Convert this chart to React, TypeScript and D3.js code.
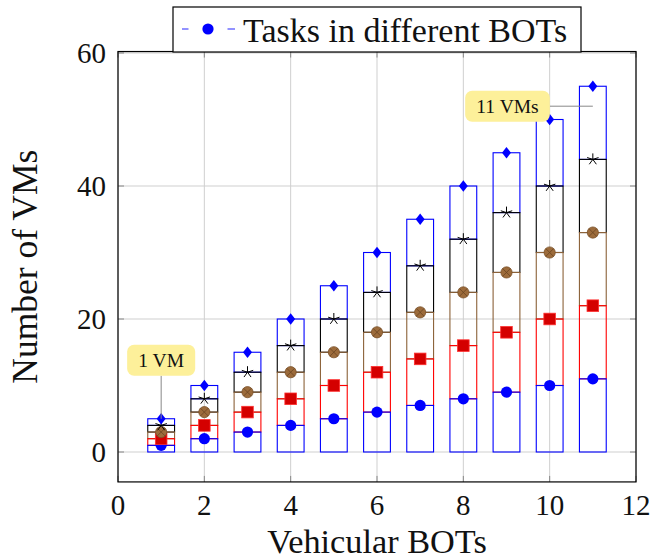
import React from "react";
import * as d3 from "d3";

// Vehicular BOT index along the x axis
const bots = [1, 2, 3, 4, 5, 6, 7, 8, 9, 10, 11];
// Cumulative number of VMs at each stack level
const vmLevel1 = [1, 2, 3, 4, 5, 6, 7, 8, 9, 10, 11];
const vmLevel2 = [2, 4, 6, 8, 10, 12, 14, 16, 18, 20, 22];
const vmLevel3 = [3, 6, 9, 12, 15, 18, 21, 24, 27, 30, 33];
const vmLevel4 = [4, 8, 12, 16, 20, 24, 28, 32, 36, 40, 44];
const vmLevel5 = [5, 10, 15, 20, 25, 30, 35, 40, 45, 50, 55];
const xTicks = [0, 2, 4, 6, 8, 10, 12];
const yTicks = [0, 20, 40, 60];
const legendLabel = "Tasks in different BOTs";
const xLabel = "Vehicular BOTs";
const yLabel = "Number of VMs";
const pinLabels = ["1 VM", "11 VMs"];
const pinBots = [1, 11];
const pinValues = [5, 52];

const W = 653;
const H = 559;
const FONT = "'Liberation Serif', 'Times New Roman', serif";

const x = d3.scaleLinear().domain([0, 12]).range([118, 636]);
const y = d3.scaleLinear().domain([0, 60]).range([452, 53]);
const frameTop = y(60.22);
const frameBottom = y(-4.5);
const barHalf = 13.4;

const levels = [vmLevel1, vmLevel2, vmLevel3, vmLevel4, vmLevel5];
const levelColors = ["#0000ff", "#ff0000", "#8c6239", "#000000", "#0000ff"];

function textWidth(t: string, size: number) {
  const c = document.createElement("canvas").getContext("2d");
  if (!c) return t.length * size * 0.45;
  c.font = `${size}px ${FONT}`;
  return c.measureText(t).width;
}

function Star({ cx, cy, r }: { cx: number; cy: number; r: number }) {
  const rays = d3.range(5).map((i) => {
    const a = -Math.PI / 2 + (i * 2 * Math.PI) / 5;
    return (
      <line key={i} x1={cx} y1={cy} x2={cx + r * Math.cos(a)} y2={cy + r * Math.sin(a)} stroke="#000" strokeWidth={1} />
    );
  });
  return <g>{rays}</g>;
}

function OTimes({ cx, cy, r }: { cx: number; cy: number; r: number }) {
  const k = r * Math.SQRT1_2;
  return (
    <g>
      <circle cx={cx} cy={cy} r={r} fill="#9c6b3b" stroke="#7a5028" strokeWidth={0.8} />
      <line x1={cx - k} y1={cy - k} x2={cx + k} y2={cy + k} stroke="#6b4522" strokeWidth={0.8} />
      <line x1={cx - k} y1={cy + k} x2={cx + k} y2={cy - k} stroke="#6b4522" strokeWidth={0.8} />
    </g>
  );
}

function Pin({ label, bx, v, dir }: { label: string; bx: number; v: number; dir: "up" | "left" }) {
  const fs = 19.5;
  const tw = textWidth(label, fs);
  const bw = tw + 22;
  const bh = 31;
  const px = x(bx);
  const py = y(v);
  const dist = 43;
  let cx: number, cy: number, lx: number, ly: number;
  if (dir === "up") {
    cx = px;
    cy = py - dist - bh / 2;
    lx = px;
    ly = py - dist;
  } else {
    cx = px - dist - bw / 2;
    cy = py;
    lx = px - dist;
    ly = py;
  }
  return (
    <g>
      <line x1={px} y1={py} x2={lx} y2={ly} stroke="#888" strokeWidth={1} />
      <rect x={cx - bw / 2} y={cy - bh / 2} width={bw} height={bh} rx={7} fill="#fdf09a" />
      <text x={cx} y={cy + 6.5} textAnchor="middle" fontFamily={FONT} fontSize={fs} fill="#111">
        {label}
      </text>
    </g>
  );
}

export default function App() {
  const legendX0 = 173;
  const legendX1 = 581;
  const legendY0 = 7;
  const legendY1 = 52;
  return (
    <svg width={W} height={H} style={{ position: "absolute", left: 0, top: 0, background: "#fff" }}>
      <rect x={0} y={0} width={W} height={H} fill="#fff" />
      {/* grid */}
      {xTicks.map((t) => (
        <line key={"gx" + t} x1={x(t)} x2={x(t)} y1={frameTop} y2={frameBottom} stroke="#cfcfcf" strokeWidth={1} />
      ))}
      {yTicks.map((t) => (
        <line key={"gy" + t} x1={x(0)} x2={x(12)} y1={y(t)} y2={y(t)} stroke="#cfcfcf" strokeWidth={1} />
      ))}
      {/* tick marks on all four sides */}
      {xTicks.map((t) => (
        <g key={"tx" + t}>
          <line x1={x(t)} x2={x(t)} y1={frameBottom} y2={frameBottom - 6} stroke="#888" />
          <line x1={x(t)} x2={x(t)} y1={frameTop} y2={frameTop + 6} stroke="#888" />
        </g>
      ))}
      {yTicks.map((t) => (
        <g key={"ty" + t}>
          <line x1={x(0)} x2={x(0) + 6} y1={y(t)} y2={y(t)} stroke="#888" />
          <line x1={x(12)} x2={x(12) - 6} y1={y(t)} y2={y(t)} stroke="#888" />
        </g>
      ))}
      {/* stacked bars: upper segments first so lower top edges stay visible */}
      {bots.map((b, i) =>
        d3
          .range(levels.length)
          .reverse()
          .map((l) => {
            const top = levels[l][i];
            const bottom = l === 0 ? 0 : levels[l - 1][i];
            return (
              <rect
                key={`bar-${b}-${l}`}
                x={x(b) - barHalf}
                y={y(top)}
                width={barHalf * 2}
                height={y(bottom) - y(top)}
                fill="none"
                stroke={levelColors[l]}
                strokeWidth={1.1}
              />
            );
          })
      )}
      {/* markers */}
      {bots.map((b, i) => (
        <g key={"m" + b}>
          <circle cx={x(b)} cy={y(vmLevel1[i])} r={5.6} fill="#0000ff" />
          <rect x={x(b) - 5.8} y={y(vmLevel2[i]) - 5.8} width={11.6} height={11.6} fill="#d40000" stroke="#ff3030" strokeWidth={0.8} />
          <OTimes cx={x(b)} cy={y(vmLevel3[i])} r={5.6} />
          <Star cx={x(b)} cy={y(vmLevel4[i])} r={6} />
          <path
            d={`M${x(b)},${y(vmLevel5[i]) - 5.8} L${x(b) + 4.5},${y(vmLevel5[i])} L${x(b)},${y(vmLevel5[i]) + 5.8} L${x(b) - 4.5},${y(vmLevel5[i])} Z`}
            fill="#0000ff"
          />
        </g>
      ))}
      {/* pins */}
      <Pin label={pinLabels[0]} bx={pinBots[0]} v={pinValues[0]} dir="up" />
      <Pin label={pinLabels[1]} bx={pinBots[1]} v={pinValues[1]} dir="left" />
      {/* frame */}
      <rect x={x(0)} y={frameTop} width={x(12) - x(0)} height={frameBottom - frameTop} fill="none" stroke="#000" strokeWidth={1.2} />
      {/* tick labels */}
      {xTicks.map((t) => (
        <text key={"lx" + t} x={x(t)} y={515} textAnchor="middle" fontFamily={FONT} fontSize={29} fill="#111">
          {t}
        </text>
      ))}
      {yTicks.map((t) => (
        <text key={"ly" + t} x={106} y={y(t) + 10} textAnchor="end" fontFamily={FONT} fontSize={29} fill="#111">
          {t}
        </text>
      ))}
      {/* axis labels */}
      <text x={(x(0) + x(12)) / 2} y={553} textAnchor="middle" fontFamily={FONT} fontSize={34.3} fill="#111">
        {xLabel}
      </text>
      <text
        transform={`translate(37,${(frameTop + frameBottom) / 2}) rotate(-90)`}
        textAnchor="middle"
        fontFamily={FONT}
        fontSize={35.5}
        fill="#111"
      >
        {yLabel}
      </text>
      {/* legend */}
      <rect x={legendX0} y={legendY0} width={legendX1 - legendX0} height={legendY1 - legendY0} fill="#fff" stroke="#000" strokeWidth={1.2} />
      <line x1={182} x2={188.5} y1={29} y2={29} stroke="#4a4aff" strokeWidth={1.2} />
      <line x1={227.5} x2={235} y1={29} y2={29} stroke="#4a4aff" strokeWidth={1.2} />
      <circle cx={208} cy={29} r={5.6} fill="#0000ff" />
      <text x={243} y={42} fontFamily={FONT} fontSize={34} fill="#111">
        {legendLabel}
      </text>
    </svg>
  );
}
